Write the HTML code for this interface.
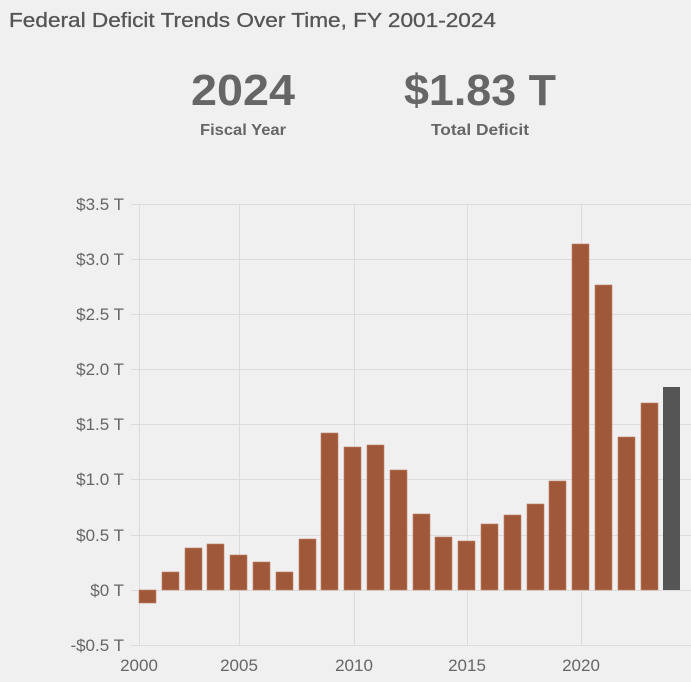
<!DOCTYPE html>
<html><head><style>
body{margin:0;background:#f0f0f0;width:691px;height:682px;overflow:hidden;font-family:"Liberation Sans",sans-serif;}
</style></head><body>
<svg width="691" height="682" xmlns="http://www.w3.org/2000/svg" style="position:absolute;left:0;top:0">
<rect width="691" height="682" fill="#f0f0f0"/>
<text x="9" y="27" font-size="20" fill="#555" stroke="#555" stroke-width="0.3" textLength="487" lengthAdjust="spacingAndGlyphs">Federal Deficit Trends Over Time, FY 2001-2024</text>
<text x="243" y="105" font-size="44" font-weight="bold" fill="#666" text-anchor="middle" textLength="104" lengthAdjust="spacingAndGlyphs">2024</text>
<text x="243" y="135" font-size="16" font-weight="bold" fill="#666" text-anchor="middle" textLength="86" lengthAdjust="spacingAndGlyphs">Fiscal Year</text>
<text x="480" y="105" font-size="44" font-weight="bold" fill="#666" text-anchor="middle" textLength="152" lengthAdjust="spacingAndGlyphs">$1.83 T</text>
<text x="480" y="135" font-size="16" font-weight="bold" fill="#666" text-anchor="middle" textLength="98" lengthAdjust="spacingAndGlyphs">Total Deficit</text>
<g stroke="#dcdcdc" stroke-width="1">
<line x1="131" x2="691" y1="204.5" y2="204.5"/>
<line x1="131" x2="691" y1="259.5" y2="259.5"/>
<line x1="131" x2="691" y1="314.5" y2="314.5"/>
<line x1="131" x2="691" y1="369.5" y2="369.5"/>
<line x1="131" x2="691" y1="424.5" y2="424.5"/>
<line x1="131" x2="691" y1="479.5" y2="479.5"/>
<line x1="131" x2="691" y1="535.5" y2="535.5"/>
<line x1="131" x2="691" y1="590.5" y2="590.5"/>
<line x1="131" x2="691" y1="645.5" y2="645.5"/>
<line x1="139.5" x2="139.5" y1="204" y2="645"/>
<line x1="239.5" x2="239.5" y1="204" y2="645"/>
<line x1="354.5" x2="354.5" y1="204" y2="645"/>
<line x1="467.5" x2="467.5" y1="204" y2="645"/>
<line x1="581.5" x2="581.5" y1="204" y2="645"/>
</g>
<g font-size="17" fill="#666" text-anchor="end">
<text x="124" y="210">$3.5 T</text>
<text x="124" y="265">$3.0 T</text>
<text x="124" y="320">$2.5 T</text>
<text x="124" y="375">$2.0 T</text>
<text x="124" y="430">$1.5 T</text>
<text x="124" y="485">$1.0 T</text>
<text x="124" y="541">$0.5 T</text>
<text x="124" y="596">$0 T</text>
<text x="124" y="651">-$0.5 T</text>
</g>
<g font-size="17" fill="#666" text-anchor="middle">
<text x="139" y="671">2000</text>
<text x="239" y="671">2005</text>
<text x="354" y="671">2010</text>
<text x="467" y="671">2015</text>
<text x="581" y="671">2020</text>
</g>
<g fill="#a0583a" stroke="#c0826a" stroke-width="0.6">
<rect x="139" y="590" width="17" height="13"/>
<rect x="162" y="572" width="17" height="18"/>
<rect x="185" y="548" width="17" height="42"/>
<rect x="207" y="544" width="17" height="46"/>
<rect x="230" y="555" width="17" height="35"/>
<rect x="253" y="562" width="17" height="28"/>
<rect x="276" y="572" width="17" height="18"/>
<rect x="299" y="539" width="17" height="51"/>
<rect x="321" y="433" width="17" height="157"/>
<rect x="344" y="447" width="17" height="143"/>
<rect x="367" y="445" width="17" height="145"/>
<rect x="390" y="470" width="17" height="120"/>
<rect x="413" y="514" width="17" height="76"/>
<rect x="435" y="537" width="17" height="53"/>
<rect x="458" y="541" width="17" height="49"/>
<rect x="481" y="524" width="17" height="66"/>
<rect x="504" y="515" width="17" height="75"/>
<rect x="527" y="504" width="17" height="86"/>
<rect x="549" y="481" width="17" height="109"/>
<rect x="572" y="244" width="17" height="346"/>
<rect x="595" y="285" width="17" height="305"/>
<rect x="618" y="437" width="17" height="153"/>
<rect x="641" y="403" width="17" height="187"/>
</g>
<rect x="663" y="387" width="17" height="203" fill="#555"/>
</svg>
</body></html>
